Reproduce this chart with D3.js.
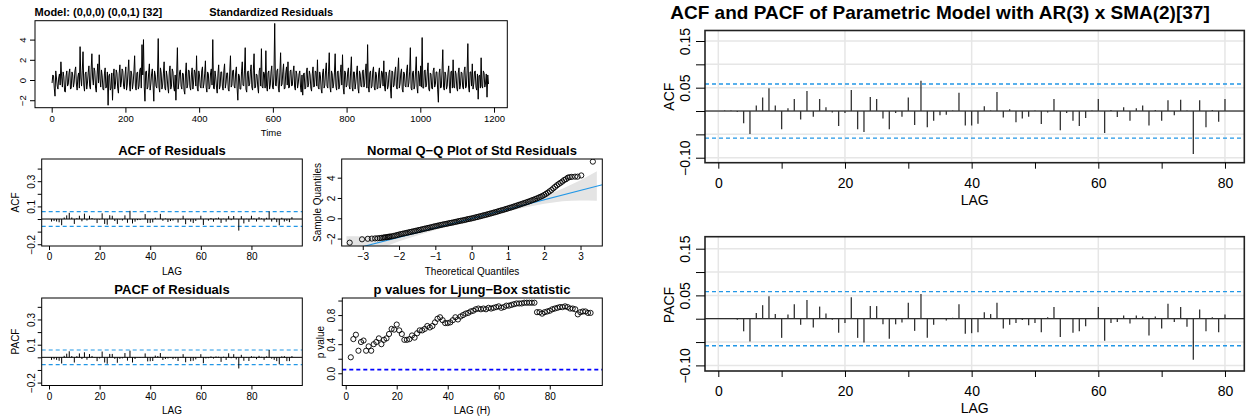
<!DOCTYPE html>
<html>
<head>
<meta charset="utf-8">
<script src="https://cdn.jsdelivr.net/npm/d3@7"></script>
<style>
  body { margin: 0; background: #fff; }
  svg { display: block; }
</style>
</head>
<body>
<svg id="chart" width="1248" height="418"></svg>
<script>
// ---- data ----

// standardized residuals at t = 1, 5, 9, ... (every 4th step)
const residuals = [
  -0.3, 0.4, -1.6, 0.2, -0.9, 0.6, 1.8, -0.7, 0.3, -1.2, 0.9, -0.4, 1.1, -0.8, 0.5, -0.2, 1.3, -1.0, 0.7, 3.3,
  -0.6, 2.8, -1.1, 0.8, -0.3, 1.4, -0.9, 2.6, -0.5, 0.9, -1.2, 1.6, 2.5, -0.7, 0.4, -1.0, 1.2, -0.6, -2.5, 0.6,
  -0.8, -2.0, 1.1, -0.4, 0.7, -1.3, 1.5, -0.2, 0.9, -0.9, 1.3, -0.5, 2.0, -1.1, 0.6, -0.3, 2.4, -1.0, 0.8, -0.6,
  1.2, 3.5, 4.0, -2.1, 0.9, -0.7, 1.6, -0.4, 1.1, -2.1, 0.5, -0.8, 4.1, -1.2, 0.7, -0.5, 1.8, -1.0, 0.4, -1.3,
  1.4, -0.6, 0.8, -1.1, -2.0, 3.2, -0.3, 1.0, -0.9, 0.6, -1.4, 1.7, -0.5, 0.9, -1.0, 1.2, -0.2, 0.7, 2.4, -1.1,
  0.5, -0.8, 1.3, -0.4, 1.9, -1.2, 0.6, -0.7, 1.1, 4.0, -0.9, 0.3, -1.3, 1.5, -0.6, 0.8, -1.0, 1.6, -0.3, 0.7,
  -1.1, 2.4, -0.5, 1.0, -0.8, 1.3, -2.0, 0.4, -0.9, 1.8, -0.6, 3.2, -1.2, 0.9, -0.4, 1.5, -1.0, 2.6, -0.7, 0.5,
  -1.3, 1.2, 3.1, -0.8, 0.6, 2.9, -1.1, 0.9, -0.5, 1.4, -0.9, 5.6, -0.6, 1.1, -1.2, 2.7, -0.4, 1.6, -0.8, 1.3,
  1.8, -0.7, 1.0, -0.5, 1.4, -1.0, 0.6, -0.3, 0.9, -1.2, -1.5, 0.7, -0.8, 1.2, -0.4, 0.5, -1.1, 1.3, -0.6, 0.8,
  2.0, -0.9, 0.4, -1.3, 1.1, -0.5, 1.7, -0.8, 2.7, -1.2, 0.6, -0.4, 2.6, -1.0, 0.9, -0.6, 1.5, 2.5, -1.4, 0.7,
  -0.5, 1.2, -0.9, 2.3, -1.1, 0.8, -0.3, 1.4, -1.3, 0.6, -0.7, 1.0, -0.4, 1.6, 3.5, -1.2, 0.9, -0.6, 1.3, -1.0,
  0.5, -0.8, 1.2, -0.3, 0.7, 1.9, -1.1, 0.4, -0.6, 1.0, -1.8, 0.8, -0.5, 1.3, -0.9, 2.2, -0.4, 1.1, -1.2, 0.6,
  -0.7, 1.5, -0.3, 3.2, -1.0, 0.9, -0.6, 2.3, -1.3, 0.5, 1.4, 4.2, -0.8, 1.0, -0.5, 1.7, -1.1, 0.6, -0.9, 1.2,
  -0.4, 0.8, -2.2, 1.1, -0.7, 3.0, -1.0, 0.5, -0.6, 1.4, -1.3, 0.9, 2.0, -0.8, 0.6, -1.1, 1.2, -0.5, 0.7, -0.9,
  1.3, -0.6, 3.6, -1.2, 0.8, 1.6, -0.4, 0.9, -1.0, -1.9, 0.5, 2.2, -0.8, 0.7, -0.3, -1.7, -0.4
];
// standardized residuals at t = 3, 7, 11, ... (the steps in between)
const residualsMid = [
  0.5, -0.8, 0.9, -0.6, 0.2, -0.5, 0.3, 0.8, -1.1, 0.4, -0.6, 0.7, -0.9, 0.8, -0.7, 0.9, -0.4, 0.3, -0.8, 0.2,
  0.9, -0.5, 0.6, -0.9, 0.7, -0.6, 1.0, 0.2, 1.2, -0.8, 0.5, -0.3, 0.1, 1.0, -0.9, 0.6, -0.8, 0.8, 0.4, -1.0,
  0.7, 0.3, -0.9, 1.0, -0.8, 0.6, -0.7, 1.1, -0.6, 0.5, -1.0, 0.8, -0.4, 0.9, -0.9, 0.8, -0.6, 0.7, -0.9, 1.0,
  -0.8, 0.5, -0.6, 0.8, -0.9, 0.7, -1.0, 0.6, -0.5, 0.9, -0.6, 0.5, -0.7, 1.2, -0.9, 0.6, -0.8, 0.9, -0.7, 0.8,
  -0.9, 1.1, -0.7, 0.5, 0.6, -0.9, 0.8, -0.6, 0.7, -1.0, 0.6, -0.8, 1.0, -0.7, 0.5, -0.9, 1.0, -0.6, -0.8, 0.9,
  -0.6, 0.9, -0.8, 0.6, -0.7, 0.8, -0.9, 0.7, -0.5, -0.8, 0.9, -0.7, 0.6, -0.9, 0.8, -0.6, 0.9, -0.8, 0.7, -0.9,
  0.8, -0.7, 0.9, -0.6, 0.7, -0.8, 0.6, -0.9, 0.8, -0.5, 0.9, -0.9, 0.7, -0.6, 0.8, -0.7, 0.9, -0.8, 0.6, -0.7,
  0.9, -0.6, -0.7, 0.8, -0.8, -0.6, 0.7, -0.9, 0.8, -0.7, 0.6, -0.5, 0.9, -0.8, 0.7, -0.6, 0.8, -0.9, 0.7, -0.5,
  -0.8, 0.9, -0.6, 0.8, -0.7, 0.9, -0.8, 0.6, -0.7, 0.5, 0.6, -0.9, 0.8, -0.7, 0.9, -0.8, 0.6, -0.7, 0.9, -0.6,
  -0.7, 0.8, -0.9, 0.7, -0.8, 0.9, -0.6, 0.8, -0.7, 0.9, -0.8, 0.7, -0.6, 0.8, -0.9, 0.7, -0.5, -0.8, 0.9, -0.7,
  0.8, -0.6, 0.9, -0.7, 0.8, -0.9, 0.7, -0.8, 0.9, -0.6, 0.8, -0.7, 0.9, -0.8, -0.6, 0.7, -0.8, 0.9, -0.7, 0.8,
  -0.9, 0.7, -0.8, 0.9, -0.6, -0.7, 0.8, -0.9, 0.7, -0.8, 0.9, -0.7, 0.8, -0.6, 0.9, -0.8, 0.7, -0.9, 0.8, -0.6,
  0.9, -0.7, 0.8, -0.8, 0.7, -0.9, 0.8, -0.7, 0.9, -0.6, -0.7, -0.8, 0.9, -0.7, 0.8, -0.9, 0.7, -0.8, 0.9, -0.7,
  0.8, -0.9, 0.7, -0.8, 0.9, -0.7, 0.8, -0.9, 0.7, -0.6, 0.8, -0.8, -0.7, 0.9, -0.8, 0.7, -0.9, 0.8, -0.7, 0.9,
  -0.8, 0.9, -0.7, 0.8, -0.6, -0.9, 0.8, -0.7, 0.6, 0.4, -0.8, -0.6, 0.9, -0.7, 0.6, 0.5
];
const residStep = 4;

// ACF / PACF of residuals of the (0,0,0)(0,0,1)[32] model, lags 1..96
const acfLeft = [
  -0.020, -0.015, -0.020, -0.026, -0.049, 0.012, 0.029, 0.049, 0.012, -0.039,
  0.006, 0.026, -0.018, 0.043, -0.012, 0.026, 0.008, -0.003, -0.032, -0.004,
  0.045, -0.039, -0.045, 0.030, 0.026, -0.016, -0.039, -0.004, -0.012, 0.029,
  -0.030, 0.065, -0.035, -0.021, -0.009, -0.008, 0.001, 0.039, -0.031, -0.031,
  -0.027, 0.010, 0.001, 0.041, -0.014, 0.004, -0.024, -0.016, -0.012, 0.001,
  -0.028, -0.003, 0.026, -0.041, -0.004, -0.021, -0.032, -0.015, 0.001, 0.026,
  -0.047, 0.002, -0.013, 0.008, -0.021, 0.006, 0.012, -0.031, 0.002, -0.021,
  0.023, -0.009, 0.024, 0.001, -0.092, 0.023, -0.035, 0.002, -0.023, 0.026,
  0.005, -0.020, 0.015, 0.005, -0.020, 0.010, 0.060, -0.020, 0.010, -0.025,
  -0.050, 0.010, -0.020, -0.015, -0.025, 0.015
];
const pacfLeft = [
  -0.020, -0.015, -0.020, -0.027, -0.049, 0.012, 0.029, 0.048, 0.010, -0.041,
  0.009, 0.031, -0.013, 0.040, -0.019, 0.026, 0.011, -0.002, -0.030, -0.009,
  0.046, -0.041, -0.051, 0.027, 0.027, -0.012, -0.043, -0.012, -0.008, 0.034,
  -0.026, 0.053, -0.041, -0.013, 0.001, -0.004, 0.002, 0.031, -0.032, -0.031,
  -0.029, 0.014, 0.010, 0.034, -0.021, -0.013, -0.009, -0.003, -0.014, -0.009,
  -0.029, 0.003, 0.025, -0.039, 0.001, -0.030, -0.027, -0.016, 0.001, 0.025,
  -0.047, -0.009, -0.007, 0.007, -0.010, 0.007, 0.005, -0.036, 0.005, -0.021,
  0.032, -0.007, 0.025, -0.017, -0.088, 0.020, -0.027, 0.003, -0.029, 0.009,
  0.005, -0.015, 0.012, 0.004, -0.020, 0.008, 0.058, -0.010, -0.020, -0.030,
  -0.055, 0.008, 0.010, -0.030, -0.030, 0.010
];

// Ljung-Box p-values, lags 2..96
const lbFirstLag = 2;
const lbPvalues = [
  0.22, 0.47, 0.53, 0.31, 0.43, 0.45, 0.31, 0.37, 0.31, 0.40,
  0.43, 0.48, 0.40, 0.46, 0.48, 0.54, 0.61, 0.60, 0.67, 0.59,
  0.54, 0.46, 0.46, 0.47, 0.52, 0.49, 0.55, 0.59, 0.59, 0.61,
  0.65, 0.63, 0.65, 0.70, 0.75, 0.77, 0.73, 0.69, 0.69, 0.70,
  0.73, 0.77, 0.74, 0.78, 0.80, 0.82, 0.83, 0.85, 0.86, 0.88,
  0.89, 0.88, 0.89, 0.88, 0.90, 0.89, 0.90, 0.91, 0.92, 0.90,
  0.91, 0.93, 0.93, 0.94, 0.95, 0.96, 0.96, 0.96, 0.97, 0.97,
  0.97, 0.97, 0.97, 0.84, 0.84, 0.82, 0.84, 0.85, 0.86, 0.88,
  0.89, 0.90, 0.91, 0.91, 0.92, 0.91, 0.89, 0.89, 0.88, 0.81,
  0.84, 0.85, 0.85, 0.83, 0.83
];
const lbAlpha = 0.05;

// normal Q-Q plot: theoretical vs sample quantiles
const qqTheo = [
  -3.36, -3.02, -2.86, -2.75, -2.66, -2.59, -2.53, -2.48, -2.43, -2.39, -2.35, -2.31, -2.28, -2.25,
  -2.20, -2.15, -2.10, -2.05, -2.00, -1.95, -1.90, -1.85, -1.80, -1.75, -1.70, -1.65, -1.60, -1.55,
  -1.50, -1.45, -1.40, -1.35, -1.30, -1.25, -1.20, -1.15, -1.10, -1.05, -1.00, -0.95, -0.90, -0.85,
  -0.80, -0.75, -0.70, -0.65, -0.60, -0.55, -0.50, -0.45, -0.40, -0.35, -0.30, -0.25, -0.20, -0.15,
  -0.10, -0.05, 0.00, 0.05, 0.10, 0.15, 0.20, 0.25, 0.30, 0.35, 0.40, 0.45, 0.50, 0.55, 0.60, 0.65,
  0.70, 0.75, 0.80, 0.85, 0.90, 0.95, 1.00, 1.05, 1.10, 1.15, 1.20, 1.25, 1.30, 1.35, 1.40, 1.45,
  1.50, 1.55, 1.60, 1.65, 1.70, 1.75, 1.80, 1.85, 1.90, 1.95, 2.00, 2.05, 2.10, 2.15, 2.20,
  2.25, 2.30, 2.35, 2.40, 2.45, 2.50, 2.55, 2.60, 2.65, 2.70, 2.76, 2.85, 2.92, 3.02, 3.34
];
const qqSample = [
  -2.40, -2.07, -2.02, -2.00, -1.98, -1.97, -1.95, -1.93, -1.90, -1.88, -1.86, -1.84, -1.82, -1.80,
  -1.78, -1.74, -1.70, -1.65, -1.60, -1.56, -1.52, -1.48, -1.44, -1.40, -1.36, -1.32, -1.28, -1.24,
  -1.20, -1.16, -1.12, -1.07, -1.03, -0.99, -0.95, -0.91, -0.87, -0.82, -0.78, -0.74, -0.70, -0.66,
  -0.62, -0.58, -0.55, -0.51, -0.47, -0.44, -0.40, -0.36, -0.32, -0.28, -0.24, -0.21, -0.17, -0.13,
  -0.08, -0.05, -0.01, 0.03, 0.08, 0.12, 0.17, 0.21, 0.26, 0.31, 0.35, 0.40, 0.45, 0.50, 0.55, 0.60,
  0.65, 0.71, 0.76, 0.81, 0.86, 0.92, 0.97, 1.03, 1.08, 1.14, 1.20, 1.26, 1.32, 1.38, 1.44, 1.50,
  1.56, 1.62, 1.69, 1.76, 1.82, 1.89, 1.96, 2.04, 2.12, 2.20, 2.30, 2.41, 2.53, 2.66, 2.79,
  2.95, 3.10, 3.25, 3.38, 3.50, 3.62, 3.77, 3.85, 4.00, 4.05, 4.08, 4.10, 4.10, 4.22, 5.58
];
const qqLineIntercept = -0.02;
const qqLineSlope = 0.925;
const qqBandQ    = [-3.45, -3.2, -3.0, -2.75, -2.5, -2.25, -2.0, -1.5, -1.0, -0.5, 0, 0.5, 1.0, 1.5, 2.0, 2.25, 2.5, 2.75, 3.0, 3.2, 3.45];
const qqBandHalf = [1.45, 1.2, 1.0, 0.8, 0.62, 0.5, 0.4, 0.28, 0.2, 0.15, 0.13, 0.15, 0.2, 0.28, 0.4, 0.5, 0.62, 0.8, 1.0, 1.2, 1.45];

// ACF / PACF of the AR(3) x SMA(2)[37] model, lags 1..80
const acfRight = [
  0.001, 0.001, -0.002, -0.026, -0.049, 0.012, 0.029, 0.049, 0.012, -0.039,
  0.006, 0.026, -0.018, 0.043, -0.012, 0.026, 0.008, -0.003, -0.032, -0.004,
  0.045, -0.039, -0.045, 0.030, 0.026, -0.016, -0.039, -0.004, -0.012, 0.029,
  -0.030, 0.065, -0.035, -0.021, -0.009, -0.008, 0.001, 0.039, -0.031, -0.031,
  -0.027, 0.010, 0.001, 0.041, -0.014, 0.004, -0.024, -0.016, -0.012, 0.001,
  -0.028, -0.003, 0.026, -0.041, -0.004, -0.021, -0.032, -0.015, 0.001, 0.026,
  -0.047, 0.002, -0.013, 0.008, -0.021, 0.006, 0.012, -0.031, 0.002, -0.021,
  0.023, -0.009, 0.024, 0.001, -0.092, 0.023, -0.035, 0.002, -0.023, 0.026
];
const pacfRight = [
  0.001, 0.001, -0.002, -0.027, -0.049, 0.012, 0.029, 0.048, 0.010, -0.041,
  0.009, 0.031, -0.013, 0.040, -0.019, 0.026, 0.011, -0.002, -0.030, -0.009,
  0.046, -0.041, -0.051, 0.027, 0.027, -0.012, -0.043, -0.012, -0.008, 0.034,
  -0.026, 0.053, -0.041, -0.013, 0.001, -0.004, 0.002, 0.031, -0.032, -0.031,
  -0.029, 0.014, 0.010, 0.034, -0.021, -0.013, -0.009, -0.003, -0.014, -0.009,
  -0.029, 0.003, 0.025, -0.039, 0.001, -0.030, -0.027, -0.016, 0.001, 0.025,
  -0.047, -0.009, -0.007, 0.007, -0.010, 0.007, 0.005, -0.036, 0.005, -0.021,
  0.032, -0.007, 0.025, -0.017, -0.088, 0.020, -0.027, 0.003, -0.029, 0.009
];
const confBound = 0.058;

// tick values
const timeTicks = [0, 200, 400, 600, 800, 1000, 1200];
const residYTicks = [-2, 0, 2, 4];
const lagTicksLeft = [0, 20, 40, 60, 80];
const acfYTicksLeft = [-0.2, -0.1, 0, 0.1, 0.2, 0.3, 0.4];
const acfYLabelsLeft = [-0.2, 0.1, 0.3];
const qqXTicks = [-3, -2, -1, 0, 1, 2, 3];
const qqYTicks = [-2, 0, 2, 4];
const lbYTicks = [0, 0.2, 0.4, 0.6, 0.8, 1.0];
const lbYLabels = [0, 0.4, 0.8];
const lagTicksRight = [0, 10, 20, 30, 40, 50, 60, 70, 80];
const lagLabelsRight = [0, 20, 40, 60, 80];
const acfYTicksRight = [-0.10, -0.05, 0, 0.05, 0.10, 0.15];
const acfYLabelsRight = [-0.10, 0.05, 0.15];

// ---- drawing ----
const FONT = '"Liberation Sans", Arial, Helvetica, sans-serif';
const BLUE = "#2297E6";
const svg = d3.select("#chart");
let clipCount = 0;

function panel(box, xd, yd) {
  const x = d3.scaleLinear().domain(xd).range([box.x0, box.x1]);
  const y = d3.scaleLinear().domain(yd).range([box.y1, box.y0]);
  const g = svg.append("g");
  const id = "clip" + (clipCount++);
  svg.append("clipPath").attr("id", id).append("rect")
    .attr("x", box.x0).attr("y", box.y0)
    .attr("width", box.x1 - box.x0).attr("height", box.y1 - box.y0);
  const inner = g.append("g").attr("clip-path", `url(#${id})`);
  return { box, x, y, g, inner };
}

function frame(p, w, col) {
  p.g.append("rect")
    .attr("x", p.box.x0).attr("y", p.box.y0)
    .attr("width", p.box.x1 - p.box.x0).attr("height", p.box.y1 - p.box.y0)
    .attr("fill", "none").attr("stroke", col || "#000").attr("stroke-width", w || 1);
}

function xAxis(p, ticks, labels, fmt, size, pad, fs) {
  const a = p.g.append("g")
    .attr("transform", `translate(0,${p.box.y1})`)
    .call(d3.axisBottom(p.x).tickValues(ticks).tickSize(size).tickPadding(pad)
      .tickFormat(d => labels.includes(d) ? fmt(d) : ""));
  a.select(".domain").remove();
  a.selectAll("line").attr("stroke", "#000");
  a.selectAll("text").attr("font-family", FONT).attr("font-size", fs).attr("fill", "#000");
}

function yAxis(p, ticks, labels, fmt, size, gap, fs) {
  const a = p.g.append("g")
    .attr("transform", `translate(${p.box.x0},0)`)
    .call(d3.axisLeft(p.y).tickValues(ticks).tickSize(size)
      .tickFormat(d => labels.includes(d) ? fmt(d) : ""));
  a.select(".domain").remove();
  a.selectAll("line").attr("stroke", "#000");
  a.selectAll("text")
    .attr("transform", "rotate(-90)")
    .attr("x", 0).attr("y", -(size + gap)).attr("dy", 0)
    .attr("text-anchor", "middle")
    .attr("font-family", FONT).attr("font-size", fs).attr("fill", "#000");
}

function label(x, y, txt, fs, opts) {
  opts = opts || {};
  const t = svg.append("text")
    .attr("x", x).attr("y", y)
    .attr("font-family", FONT).attr("font-size", fs)
    .attr("font-weight", opts.bold ? "bold" : "normal")
    .attr("text-anchor", opts.anchor || "middle")
    .attr("fill", "#000")
    .text(txt);
  if (opts.rotate) t.attr("transform", `rotate(-90,${x},${y})`);
  return t;
}

function bars(p, values, col, w) {
  p.inner.append("line")
    .attr("x1", p.box.x0).attr("x2", p.box.x1)
    .attr("y1", p.y(0)).attr("y2", p.y(0))
    .attr("stroke", "#000").attr("stroke-width", 1);
  p.inner.selectAll(null).data(values).join("line")
    .attr("x1", (d, i) => p.x(i + 1)).attr("x2", (d, i) => p.x(i + 1))
    .attr("y1", p.y(0)).attr("y2", d => p.y(d))
    .attr("stroke", col).attr("stroke-width", w);
}

function hline(p, v, col, w, dash) {
  p.inner.append("line")
    .attr("x1", p.box.x0).attr("x2", p.box.x1)
    .attr("y1", p.y(v)).attr("y2", p.y(v))
    .attr("stroke", col).attr("stroke-width", w).attr("stroke-dasharray", dash);
}

const f0 = d3.format("d");
const f1 = d3.format(".1f");
const f2 = d3.format(".2f");

// -- standardized residuals --
const residSeries = residuals.flatMap((v, i) => i < residualsMid.length
  ? [[1 + i * residStep, v], [3 + i * residStep, residualsMid[i]]]
  : [[1 + i * residStep, v]]);
const pRes = panel({ x0: 35, x1: 507.3, y0: 20.7, y1: 107.7 }, [-45.3, 1236], [-2.74, 5.87]);
pRes.inner.append("path")
  .datum(residSeries)
  .attr("fill", "none").attr("stroke", "#000").attr("stroke-width", 1)
  .attr("d", d3.line().x(d => pRes.x(d[0])).y(d => pRes.y(d[1])));
frame(pRes);
xAxis(pRes, timeTicks, timeTicks, f0, 5, 3, 9.5);
yAxis(pRes, residYTicks, residYTicks, f0, 5, 4, 9.5);
label(271.2, 135.5, "Time", 9.5);
label(271.2, 16, "Standardized Residuals", 11, { bold: true });
label(34.5, 16, "Model: (0,0,0) (0,0,1) [32]", 11, { bold: true, anchor: "start" });

// -- ACF of residuals --
const pAcfL = panel({ x0: 41.7, x1: 302.3, y0: 159, y1: 246 }, [-2.89, 100.1], [-0.214, 0.476]);
hline(pAcfL, confBound, BLUE, 1.2, "4,3");
hline(pAcfL, -confBound, BLUE, 1.2, "4,3");
bars(pAcfL, acfLeft, "#000", 1);
frame(pAcfL);
xAxis(pAcfL, lagTicksLeft, lagTicksLeft, f0, 4, 3, 10);
yAxis(pAcfL, acfYTicksLeft, acfYLabelsLeft, f1, 4, 3, 10);
label(172, 274.5, "LAG", 10);
label(18.5, 202.5, "ACF", 10, { rotate: true });
label(172, 155, "ACF of Residuals", 13, { bold: true });

// -- PACF of residuals --
const pPacfL = panel({ x0: 41.7, x1: 302.3, y0: 298, y1: 385.5 }, [-2.89, 100.1], [-0.223, 0.47]);
hline(pPacfL, confBound, BLUE, 1.2, "4,3");
hline(pPacfL, -confBound, BLUE, 1.2, "4,3");
bars(pPacfL, pacfLeft, "#000", 1);
frame(pPacfL);
xAxis(pPacfL, lagTicksLeft, lagTicksLeft, f0, 4, 3, 10);
yAxis(pPacfL, acfYTicksLeft, acfYLabelsLeft, f1, 4, 3, 10);
label(172, 413.5, "LAG", 10);
label(18.5, 341.5, "PACF", 10, { rotate: true });
label(172, 293.5, "PACF of Residuals", 13, { bold: true });

// -- Normal Q-Q plot --
const pQQ = panel({ x0: 341.7, x1: 602.3, y0: 159, y1: 246 }, [-3.58, 3.60], [-2.73, 5.84]);
const qqLine = q => qqLineIntercept + qqLineSlope * q;
pQQ.inner.append("path")
  .datum(qqBandQ.map((q, i) => [q, qqLine(q) - qqBandHalf[i], qqLine(q) + qqBandHalf[i]]))
  .attr("fill", "#e4e4e4").attr("stroke", "none")
  .attr("d", d3.area().x(d => pQQ.x(d[0])).y0(d => pQQ.y(d[1])).y1(d => pQQ.y(d[2])));
pQQ.inner.append("line")
  .attr("x1", pQQ.x(-3.58)).attr("y1", pQQ.y(qqLine(-3.58)))
  .attr("x2", pQQ.x(3.60)).attr("y2", pQQ.y(qqLine(3.60)))
  .attr("stroke", BLUE).attr("stroke-width", 1.1);
pQQ.inner.selectAll(null).data(qqTheo).join("circle")
  .attr("cx", d => pQQ.x(d)).attr("cy", (d, i) => pQQ.y(qqSample[i]))
  .attr("r", 2.6).attr("fill", "none").attr("stroke", "#000").attr("stroke-width", 0.9);
frame(pQQ);
xAxis(pQQ, qqXTicks, qqXTicks, f0, 4, 3, 10);
yAxis(pQQ, qqYTicks, qqYTicks, f0, 4, 3, 10);
label(472, 274.5, "Theoretical Quantiles", 10);
label(320.5, 202.5, "Sample Quantiles", 10, { rotate: true });
label(472, 155, "Normal Q\u2212Q Plot of Std Residuals", 13, { bold: true });

// -- Ljung-Box p-values --
const pLB = panel({ x0: 342.3, x1: 602.3, y0: 298, y1: 385.5 }, [-1.33, 100.6], [-0.168, 1.035]);
hline(pLB, lbAlpha, "#0000FF", 1.6, "4,3");
pLB.inner.selectAll(null).data(lbPvalues).join("circle")
  .attr("cx", (d, i) => pLB.x(lbFirstLag + i)).attr("cy", d => pLB.y(d))
  .attr("r", 2.6).attr("fill", "none").attr("stroke", "#000").attr("stroke-width", 0.9);
frame(pLB);
xAxis(pLB, lagTicksLeft, lagTicksLeft, f0, 4, 3, 10);
yAxis(pLB, lbYTicks, lbYLabels, f1, 4, 3, 10);
label(472, 413.5, "LAG (H)", 10);
label(324, 342, "p value", 10, { rotate: true });
label(472, 293.5, "p values for Ljung\u2212Box statistic", 13, { bold: true });

// -- right: ACF and PACF of parametric model --
function rightPanel(box, yd, values, name, labelY) {
  const p = panel(box, [-2.1, 83.05], yd);
  acfYTicksRight.forEach(v => {
    p.inner.append("line").attr("x1", box.x0).attr("x2", box.x1)
      .attr("y1", p.y(v)).attr("y2", p.y(v))
      .attr("stroke", "#e6e6e6").attr("stroke-width", 1.5);
  });
  lagLabelsRight.forEach(v => {
    p.inner.append("line").attr("x1", p.x(v)).attr("x2", p.x(v))
      .attr("y1", box.y0).attr("y2", box.y1)
      .attr("stroke", "#e6e6e6").attr("stroke-width", 1.5);
  });
  hline(p, confBound, BLUE, 1.4, "4,3");
  hline(p, -confBound, BLUE, 1.4, "4,3");
  bars(p, values, "#333", 1.3);
  frame(p, 1.6, "#222");
  xAxis(p, lagTicksRight, lagLabelsRight, f0, 6, 9, 14);
  yAxis(p, acfYTicksRight, acfYLabelsRight, f2, 9, 6, 14);
  label((box.x0 + box.x1) / 2, box.y1 + 42, "LAG", 14);
  label(674, labelY, name, 14, { rotate: true });
  return p;
}
rightPanel({ x0: 705, x1: 1244.3, y0: 30.5, y1: 162.7 }, [-0.1107, 0.1725], acfRight, "ACF", 96.7);
rightPanel({ x0: 705, x1: 1244.3, y0: 236.7, y1: 371 }, [-0.112, 0.1757], pacfRight, "PACF", 305);
label(940, 18.5, "ACF and PACF of Parametric Model with AR(3) x SMA(2)[37]", 19, { bold: true });
</script>
</body>
</html>
